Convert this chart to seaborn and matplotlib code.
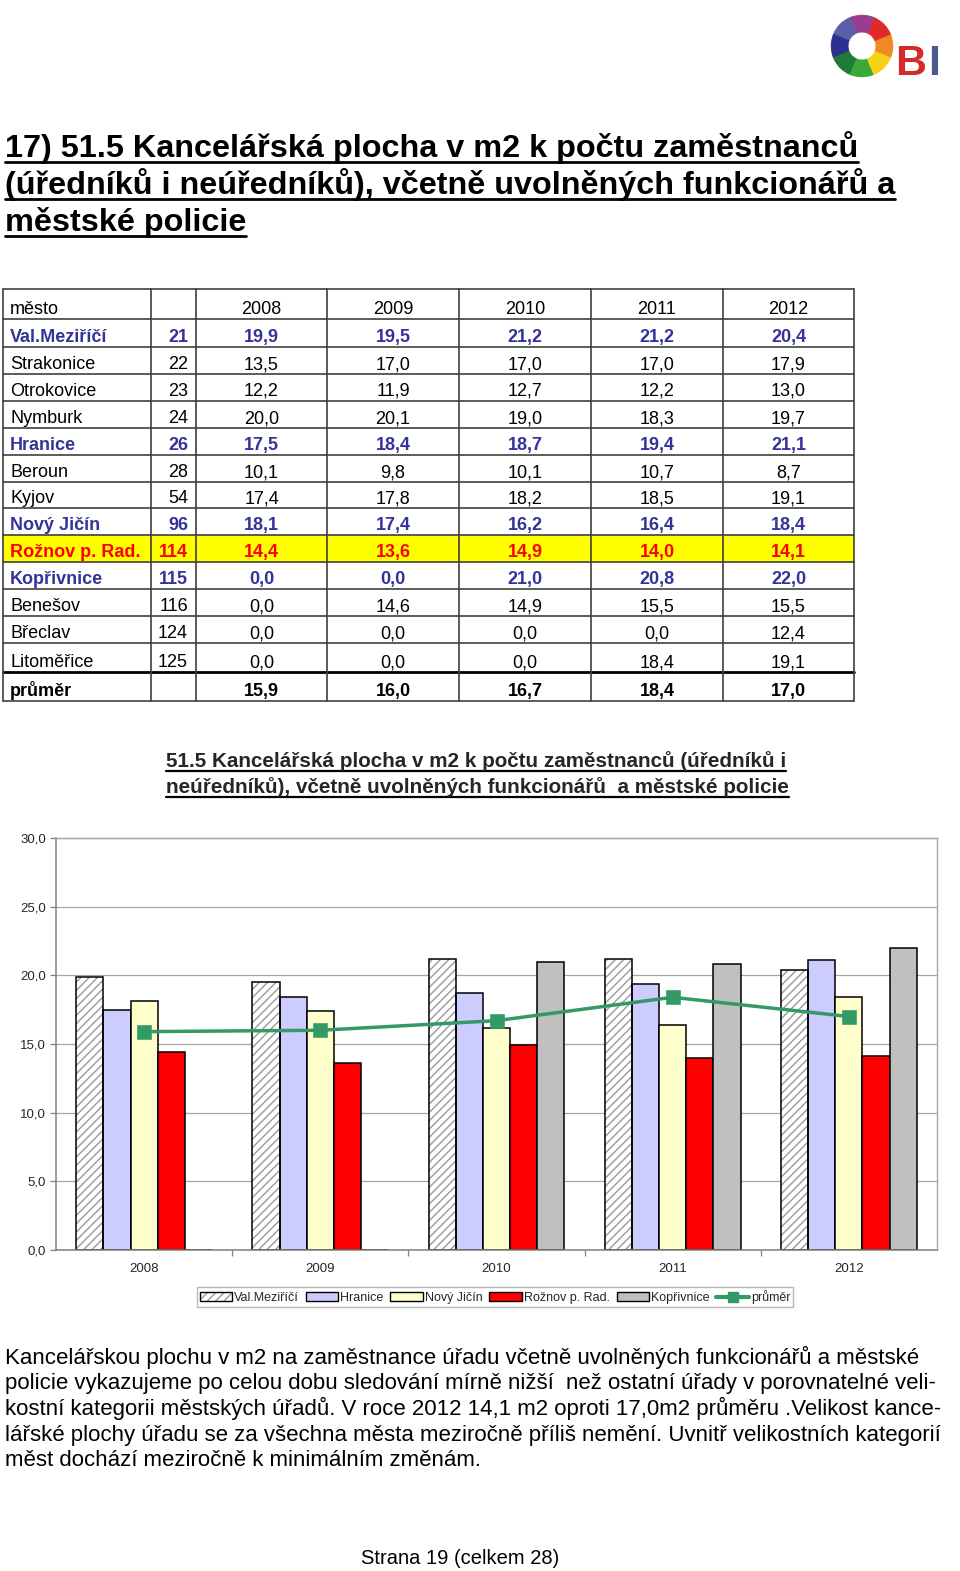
import numpy as np
import pandas as pd
import matplotlib
matplotlib.use("Agg")
import matplotlib.pyplot as plt
from matplotlib.patches import Rectangle, Wedge, Patch
from matplotlib.lines import Line2D
import seaborn as sns

# ---------------- data ----------------
cities = ["Val.Meziříčí", "Strakonice", "Otrokovice", "Nymburk", "Hranice", "Beroun",
          "Kyjov", "Nový Jičín", "Rožnov p. Rad.", "Kopřivnice", "Benešov", "Břeclav",
          "Litoměřice"]
codes = [21, 22, 23, 24, 26, 28, 54, 96, 114, 115, 116, 124, 125]
years = ["2008", "2009", "2010", "2011", "2012"]
v2008 = [19.9, 13.5, 12.2, 20.0, 17.5, 10.1, 17.4, 18.1, 14.4, 0.0, 0.0, 0.0, 0.0]
v2009 = [19.5, 17.0, 11.9, 20.1, 18.4, 9.8, 17.8, 17.4, 13.6, 0.0, 14.6, 0.0, 0.0]
v2010 = [21.2, 17.0, 12.7, 19.0, 18.7, 10.1, 18.2, 16.2, 14.9, 21.0, 14.9, 0.0, 0.0]
v2011 = [21.2, 17.0, 12.2, 18.3, 19.4, 10.7, 18.5, 16.4, 14.0, 20.8, 15.5, 0.0, 18.4]
v2012 = [20.4, 17.9, 13.0, 19.7, 21.1, 8.7, 19.1, 18.4, 14.1, 22.0, 15.5, 12.4, 19.1]
prumer = [15.9, 16.0, 16.7, 18.4, 17.0]
chart_cities = ["Val.Meziříčí", "Hranice", "Nový Jičín", "Rožnov p. Rad.", "Kopřivnice"]
chart_colors = ["#FFFFFF", "#CCCCFF", "#FFFFCC", "#FF0000", "#C0C0C0"]
blue_rows = ["Val.Meziříčí", "Hranice", "Nový Jičín", "Kopřivnice"]
red_row = "Rožnov p. Rad."

title_lines = ["17) 51.5 Kancelářská plocha v m2 k počtu zaměstnanců",
               "(úředníků i neúředníků), včetně uvolněných funkcionářů a",
               "městské policie"]
chart_title = ["51.5 Kancelářská plocha v m2 k počtu zaměstnanců (úředníků i",
               "neúředníků), včetně uvolněných funkcionářů  a městské policie"]
body = ["Kancelářskou plochu v m2 na zaměstnance úřadu včetně uvolněných funkcionářů a městské",
        "policie vykazujeme po celou dobu sledování mírně nižší  než ostatní úřady v porovnatelné veli-",
        "kostní kategorii městských úřadů. V roce 2012 14,1 m2 oproti 17,0m2 průměru .Velikost kance-",
        "lářské plochy úřadu se za všechna města meziročně příliš nemění. Uvnitř velikostních kategorií",
        "měst dochází meziročně k minimálním změnám."]
footer = "Strana 19 (celkem 28)"

# ---------------- setup ----------------
sns.set_theme(style="white")
plt.rcParams['font.family'] = ['Liberation Sans', 'DejaVu Sans']
W, H = 960, 1571
fig = plt.figure(figsize=(W / 100, H / 100), dpi=100)
fig.patch.set_facecolor("white")


def fx(x):
    return x / W


def fy(y):
    return 1 - y / H


def hline(x0, x1, y, lw=1.2, color="#404040", z=3):
    fig.add_artist(Line2D([fx(x0), fx(x1)], [fy(y), fy(y)], transform=fig.transFigure,
                          color=color, lw=lw, zorder=z))


def vline(x, y0, y1, lw=1.2, color="#404040", z=3):
    fig.add_artist(Line2D([fx(x), fx(x)], [fy(y0), fy(y1)], transform=fig.transFigure,
                          color=color, lw=lw, zorder=z))


underlines = []  # (text artist, underline_px, thickness)

# ---------------- title ----------------
for i, line in enumerate(title_lines):
    base = 157 + 37 * i
    t = fig.text(fx(5), fy(base), line, fontsize=23.3, fontweight="bold", color="black",
                 ha="left", va="baseline")
    underlines.append((t, base + 5, 2.0))

# ---------------- logo ----------------
lax = fig.add_axes([fx(828), fy(80), 68 / W, 68 / H])
lax.set_xlim(-1.1, 1.1)
lax.set_ylim(-1.1, 1.1)
lax.set_aspect("equal")
lax.axis("off")
ring_cols = ["#F08A24", "#E02A2A", "#9B3D8F", "#5B5FA8", "#2B2F8F", "#1F7A3A", "#3BAA35", "#F5D316"]
for k, c in enumerate(ring_cols):
    lax.add_patch(Wedge((0, 0), 1.0, -22.5 + 45 * k, 22.5 + 45 * k, width=0.55,
                        facecolor=c, edgecolor=c, lw=0.5))
fig.text(fx(895), fy(75), "B", fontsize=31, fontweight="bold", color="#D42A2A",
         ha="left", va="baseline")
fig.text(fx(928), fy(75), "I", fontsize=31, fontweight="bold", color="#4A5A8A",
         ha="left", va="baseline")

# ---------------- table ----------------
col_x = [3, 151, 196, 327, 459, 591, 723, 854]
row_y = [289, 319, 347, 374, 401, 428, 455, 482, 508, 535, 562, 589, 616, 643, 672, 701]
year_cols = [v2008, v2009, v2010, v2011, v2012]

ri = cities.index(red_row)
fig.add_artist(Rectangle((fx(col_x[0]), fy(row_y[ri + 2])), fx(col_x[-1]) - fx(col_x[0]),
                         fy(row_y[ri + 1]) - fy(row_y[ri + 2]), transform=fig.transFigure,
                         facecolor="#FFFF00", edgecolor="none", zorder=1))
for y in row_y:
    if y == row_y[-2]:
        hline(col_x[0], col_x[-1], y, lw=2.0, color="black")
    else:
        hline(col_x[0], col_x[-1], y)
for x in col_x:
    vline(x, row_y[0], row_y[-1])

fs = 13


def cell_texts(r, name, code, vals, color, weight):
    base = row_y[r + 1] - 5
    fig.text(fx(10), fy(base), name, fontsize=fs, color=color, fontweight=weight,
             ha="left", va="baseline", zorder=4)
    if code != "":
        fig.text(fx(188), fy(base), str(code), fontsize=fs, color=color, fontweight=weight,
                 ha="right", va="baseline", zorder=4)
    for j, v in enumerate(vals):
        cx = (col_x[j + 2] + col_x[j + 3]) / 2
        fig.text(fx(cx), fy(base), v, fontsize=fs, color=color, fontweight=weight,
                 ha="center", va="baseline", zorder=4)


def fmt(v):
    return f"{v:.1f}".replace(".", ",")


cell_texts(0, "město", "", years, "black", "normal")
for i, c in enumerate(cities):
    vals = [fmt(col[i]) for col in year_cols]
    if c == red_row:
        color, weight = "#FF0000", "bold"
    elif c in blue_rows:
        color, weight = "#333399", "bold"
    else:
        color, weight = "black", "normal"
    cell_texts(i + 1, c, codes[i], vals, color, weight)
cell_texts(len(cities) + 1, "průměr", "", [fmt(v) for v in prumer], "black", "bold")

# ---------------- chart title ----------------
for i, line in enumerate(chart_title):
    base = 767 + 26 * i
    t = fig.text(fx(166), fy(base), line, fontsize=14.9, fontweight="bold",
                 family=["Liberation Sans", "DejaVu Sans"],
                 ha="left", va="baseline")
    underlines.append((t, base + 4, 1.6))

# ---------------- chart ----------------
rows = []
for c in chart_cities:
    idx = cities.index(c)
    for y, col in zip(years, year_cols):
        rows.append({"year": y, "city": c, "value": col[idx]})
df = pd.DataFrame(rows)

ax = fig.add_axes([fx(56), fy(1250), (937 - 56) / W, (1250 - 838) / H])
sns.barplot(data=df, x="year", y="value", hue="city", hue_order=chart_cities,
            order=years, palette=dict(zip(chart_cities, chart_colors)), width=0.77,
            edgecolor="black", linewidth=1.1, saturation=1, legend=False, ax=ax, zorder=2)

hatch_col = "#9A9A9A"
for bar in ax.containers[0]:
    bar.set_hatch("////")
    bar.set_edgecolor(hatch_col)
    bar.set_linewidth(0)
    ax.add_patch(Rectangle(bar.get_xy(), bar.get_width(), bar.get_height(), fill=False,
                           edgecolor="black", lw=1.1, zorder=2.5))

green = "#339966"
sns.pointplot(x=years, y=prumer, order=years, color=green, markers="s", markersize=8,
              linewidth=2.5, errorbar=None, ax=ax)
for ln in ax.lines:
    ln.set_zorder(5)

ax.set_xlim(-0.5, len(years) - 0.5)
ax.set_ylim(0, 30)
ax.set_yticks(np.arange(0, 31, 5))
ax.set_yticklabels([fmt(v) for v in np.arange(0, 31, 5)])
ax.set_xlabel("")
ax.set_ylabel("")
ax.yaxis.grid(True, color="#A6A6A6", lw=0.9)
ax.xaxis.grid(False)
ax.set_axisbelow(True)
ax.tick_params(axis="y", labelsize=9.5, length=4, width=0.9, color="#808080", pad=3,
               left=True, direction="out")
ax.tick_params(axis="x", which="major", labelsize=9.5, length=0, pad=9)
ax.set_xticks(np.arange(0.5, len(years) - 1, 1.0), minor=True)
ax.tick_params(axis="x", which="minor", length=4, width=0.9, color="#808080",
               direction="out", bottom=True)
for s in ["left", "bottom"]:
    ax.spines[s].set_color("#808080")
    ax.spines[s].set_linewidth(1.1)
for s in ["top", "right"]:
    ax.spines[s].set_visible(True)
    ax.spines[s].set_color("#A6A6A6")
    ax.spines[s].set_linewidth(1.0)

# legend
handles = [(Patch(facecolor="white", edgecolor=hatch_col, hatch="////", lw=0),
            Patch(facecolor="none", edgecolor="black", lw=1.0))]
for c, col in zip(chart_cities[1:], chart_colors[1:]):
    handles.append(Patch(facecolor=col, edgecolor="black", lw=1.0))
handles.append(Line2D([0], [0], color=green, lw=3, marker="s", markersize=7))
labels = chart_cities + ["průměr"]
fig.legend(handles, labels, loc="center", bbox_to_anchor=(fx(495), fy(1297)), ncol=6,
           frameon=True, fancybox=False, edgecolor="#A6A6A6", fontsize=9,
           handlelength=2.6, handleheight=0.7, handletextpad=0.15, columnspacing=0.55,
           borderpad=0.25, borderaxespad=0)

# ---------------- body text ----------------
for i, line in enumerate(body):
    fig.text(fx(5), fy(1364 + 25.5 * i), line, fontsize=16, color="black",
             ha="left", va="baseline")
fig.text(fx(460), fy(1564), footer, fontsize=14.5, color="black", ha="center", va="baseline")

# ---------------- underlines ----------------
fig.canvas.draw()
r = fig.canvas.get_renderer()
for t, uy, lw in underlines:
    bb = t.get_window_extent(r)
    fig.add_artist(Line2D([bb.x0 / W, bb.x1 / W], [fy(uy), fy(uy)],
                          transform=fig.transFigure, color="black", lw=lw))

fig.savefig("out.png", dpi=100, facecolor="white")
